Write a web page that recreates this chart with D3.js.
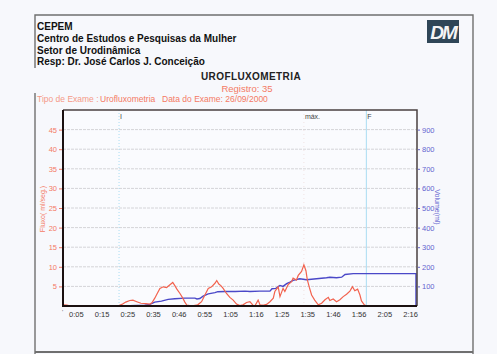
<!DOCTYPE html>
<html>
<head>
<meta charset="utf-8">
<script src="https://cdnjs.cloudflare.com/ajax/libs/d3/7.8.5/d3.min.js"></script>
<style>
    body { margin: 0; background: #f7f8fc; }
    #chart { width: 497px; height: 354px; }
    text { font-family: "Liberation Sans", Arial, sans-serif; }
</style>
</head>
<body>
<div id="chart"></div>
<script>
// Flow (ml/s), time in seconds
const flowTime = [0, 1.5, 3, 10, 21.3, 22.9, 24.4, 26, 27.2, 28.7, 30.3, 32.2, 33.8, 34.6, 35.7, 36.5, 37.7, 39, 40.3, 41.6, 42.7, 43.5, 44.3, 45.5, 46.6, 47.4, 48.2, 49.3, 50.9, 52.4, 53.9, 55.2, 56.5, 57.8, 59.1, 59.8, 60.6, 61.4, 62.3, 63.6, 64.9, 66.2, 67.5, 68.8, 70, 71.4, 72.7, 73.9, 74.6, 75.9, 76.6, 77.7, 79.2, 80.5, 81.8, 82.4, 83.7, 84.4, 85.6, 86.3, 87.6, 88.9, 89.5, 90.8, 91.5, 92.8, 93.7, 94.5, 95, 95.8, 96.7, 97.9, 99.3, 100.6, 101.9, 103.2, 103.8, 105.1, 106.4, 107.7, 109, 110.3, 111.6, 112.6, 113.5, 114.6, 115.5, 116.1, 117.2, 118.1];
const flowValue = [0.3, 0.2, 0, 0, 0, 0.4, 1.0, 1.4, 1.5, 1.1, 0.7, 0.6, 0.5, 0.8, 2.0, 3.0, 4.5, 4.9, 4.7, 5.4, 6.0, 5.2, 4.3, 3.2, 2.0, 1.0, 0.2, 0.1, 0.1, 0.3, 1.1, 2.8, 4.5, 4.9, 5.8, 6.5, 5.6, 5.2, 4.5, 3.2, 2.2, 1.5, 0.5, 0.1, 0.3, 0.9, 1.1, 0.2, 0, 1.5, 0.3, 0.2, 0.4, 1.1, 2.0, 3.7, 4.9, 2.4, 4.5, 3.7, 5.5, 6.2, 7.1, 6.6, 7.8, 8.8, 10.5, 9.0, 6.8, 4.8, 2.8, 1.5, 0.3, 0.7, 1.6, 2.2, 1.4, 1.8, 1.1, 1.6, 2.4, 3.0, 3.8, 4.9, 3.9, 4.3, 2.8, 1.3, 0.3, 0];

// Voided volume (ml)
const volTime = [0, 21.3, 26, 31.8, 33.8, 35.7, 38.3, 40.9, 43.5, 47.4, 51.3, 52.1, 53.2, 54.5, 56.5, 59.1, 60.2, 63.1, 67, 70.8, 72.7, 76.6, 80.5, 81.3, 82.8, 84.4, 85.6, 87, 88.3, 89.5, 92.1, 94.7, 98.6, 102.5, 103.8, 106.4, 108.4, 109.7, 112.9, 116.8, 137.3, 137.3];
const volValue = [0, 0, 2, 4, 8, 20, 25, 34, 37, 40, 40, 36, 38, 50, 62, 68, 73, 74, 74, 76, 74, 76, 76, 88, 90, 105, 100, 114, 122, 131, 139, 134, 139, 144, 147, 144, 147, 161, 165, 165, 165, 0];

const timeTicks = [5, 15, 25, 35, 45, 55, 65, 75, 85, 95, 105, 115, 125, 135];
const timeTickLabels = ["0:05", "0:15", "0:25", "0:35", "0:46", "0:55", "1:05", "1:16", "1:25", "1:35", "1:46", "1:56", "2:05", "2:16"];
const flowTicks = [5, 10, 15, 20, 25, 30, 35, 40, 45];
const volTicks = [100, 200, 300, 400, 500, 600, 700, 800, 900];

// event markers: start, max flow, end
const markers = [
    { label: "I", t: 21.8, style: "dotted" },
    { label: "máx.", t: 93.7, style: "faint" },
    { label: "F", t: 118, style: "solid" }
];

const headerLines = ["CEPEM", "Centro de Estudos e Pesquisas da Mulher", "Setor de Urodinâmica", "Resp: Dr. José Carlos J. Conceição"];

const red = "#f2624e";
const redText = "#f47a64";
const blue = "#4a48c8";
const blueText = "#6464d0";

const svg = d3.select("#chart").append("svg")
    .attr("width", 497)
    .attr("height", 354);

svg.append("rect").attr("width", 497).attr("height", 354).attr("fill", "#f7f8fc");

// outer frame
const frame = svg.append("g").attr("stroke", "#6f6f6f").attr("stroke-width", 1.4).attr("fill", "none");
frame.append("path").attr("d", "M35,68 V15 H473 V354");
frame.append("path").attr("d", "M35,93 V354");
frame.append("path").attr("d", "M35,352 H473").attr("stroke-width", 2);

// header block
svg.selectAll(".hdr")
    .data(headerLines)
    .enter().append("text")
    .attr("class", "hdr")
    .attr("x", 37)
    .attr("y", (d, i) => 30 + i * 11.8)
    .style("font-size", "10px")
    .style("font-weight", "bold")
    .attr("fill", "#111")
    .text(d => d);

// logo
svg.append("rect").attr("x", 427).attr("y", 20).attr("width", 32).attr("height", 23).attr("fill", "#2f4657");
svg.append("text").attr("x", 443).attr("y", 39).attr("text-anchor", "middle")
    .style("font-size", "19px").style("font-style", "italic").style("font-weight", "bold")
    .style("letter-spacing", "-2px")
    .attr("fill", "#f4f4f4").text("DM");

svg.append("text").attr("x", 251).attr("y", 80).attr("text-anchor", "middle")
    .style("font-size", "10px").style("font-weight", "bold").style("letter-spacing", "0.4px")
    .attr("fill", "#222").text("UROFLUXOMETRIA");

svg.append("text").attr("x", 247).attr("y", 92).attr("text-anchor", "middle")
    .style("font-size", "9.5px").attr("fill", redText).text("Registro: 35");

const info = [["Tipo de Exame :", 37], ["Urofluxometria", 100], ["Data do Exame: 26/09/2000", 162]];
svg.selectAll(".info")
    .data(info)
    .enter().append("text")
    .attr("class", "info")
    .attr("x", d => d[1])
    .attr("y", 102)
    .style("font-size", "8.5px")
    .attr("fill", (d, i) => i === 0 ? "#f59a88" : redText)
    .text(d => d[0]);

// scales
const plot = { left: 63, right: 417, top: 110, bottom: 306 };
const x = d3.scaleLinear().domain([0, 137.7]).range([plot.left, plot.right]);
const yFlow = d3.scaleLinear().domain([0, 50]).range([plot.bottom, plot.top]);
const yVol = d3.scaleLinear().domain([0, 1000]).range([plot.bottom, plot.top]);

svg.append("rect")
    .attr("x", plot.left).attr("y", plot.top)
    .attr("width", plot.right - plot.left).attr("height", plot.bottom - plot.top)
    .attr("fill", "#fafbfe");

// horizontal gridlines
svg.append("g")
    .selectAll("line")
    .data(flowTicks)
    .enter().append("line")
    .attr("x1", plot.left).attr("x2", plot.right)
    .attr("y1", d => yFlow(d)).attr("y2", d => yFlow(d))
    .attr("stroke", "#d4d4d8")
    .attr("stroke-dasharray", "3,1");

// marker lines
markers.forEach(m => {
    svg.append("line")
        .attr("x1", x(m.t)).attr("x2", x(m.t))
        .attr("y1", plot.top).attr("y2", plot.bottom)
        .attr("stroke", m.style === "faint" ? "#f0e2e2" : "#a9dcf2")
        .attr("stroke-width", 1)
        .attr("stroke-dasharray", m.style === "dotted" ? "1,2" : (m.style === "faint" ? "1,3" : null));
    svg.append("text")
        .attr("x", x(m.t) + 1)
        .attr("y", 119)
        .style("font-size", "7px")
        .attr("fill", "#444")
        .text(m.label);
});

// lines
const flowData = flowTime.map((t, i) => ({ t: t, v: flowValue[i] }));
const volData = volTime.map((t, i) => ({ t: t, v: volValue[i] }));

svg.append("path")
    .datum(volData)
    .attr("fill", "none")
    .attr("stroke", blue)
    .attr("stroke-width", 1.4)
    .attr("d", d3.line().x(d => x(d.t)).y(d => yVol(d.v)));

svg.append("path")
    .datum(flowData)
    .attr("fill", "none")
    .attr("stroke", red)
    .attr("stroke-width", 1.2)
    .attr("d", d3.line().x(d => x(d.t)).y(d => yFlow(d.v)));

// plot border
svg.append("path")
    .attr("d", `M${plot.left},${plot.top} H${plot.right} V${plot.bottom}`)
    .attr("fill", "none").attr("stroke", "#4a4040").attr("stroke-width", 1.5);
svg.append("path")
    .attr("d", `M${plot.left},${plot.top} V${plot.bottom} H${plot.right}`)
    .attr("fill", "none").attr("stroke", "#1a1010").attr("stroke-width", 2);

// axes
const leftAxis = svg.append("g")
    .attr("transform", `translate(${plot.left - 1},0)`)
    .call(d3.axisLeft(yFlow).tickValues(flowTicks).tickSize(3).tickPadding(2));
leftAxis.select(".domain").remove();
leftAxis.selectAll("line").attr("stroke", redText);
leftAxis.selectAll("text").attr("fill", redText).style("font-size", "7.5px");

const rightAxis = svg.append("g")
    .attr("transform", `translate(${plot.right + 1},0)`)
    .call(d3.axisRight(yVol).tickValues(volTicks).tickSize(2).tickPadding(2));
rightAxis.select(".domain").remove();
rightAxis.selectAll("line").attr("stroke", blueText);
rightAxis.selectAll("text").attr("fill", blueText).style("font-size", "7.5px");

const bottomAxis = svg.append("g")
    .attr("transform", `translate(0,${plot.bottom + 1})`)
    .call(d3.axisBottom(x).tickValues(timeTicks).tickSize(0).tickPadding(5)
        .tickFormat((d, i) => timeTickLabels[i]));
bottomAxis.select(".domain").remove();
bottomAxis.selectAll("text").attr("fill", "#333").style("font-size", "7.5px");

svg.append("text").attr("x", x(0) - 1).attr("y", 314)
    .style("font-size", "6px").attr("fill", "#555").text("'");

// axis titles
svg.append("text")
    .attr("transform", "translate(45,209) rotate(-90)")
    .attr("text-anchor", "middle")
    .style("font-size", "7px")
    .attr("fill", redText)
    .text("Fluxo( ml/seg.)");

svg.append("text")
    .attr("transform", "translate(435,207) rotate(90)")
    .attr("text-anchor", "middle")
    .style("font-size", "7px")
    .attr("fill", blueText)
    .text("Volume(ml)");
</script>
</body>
</html>
